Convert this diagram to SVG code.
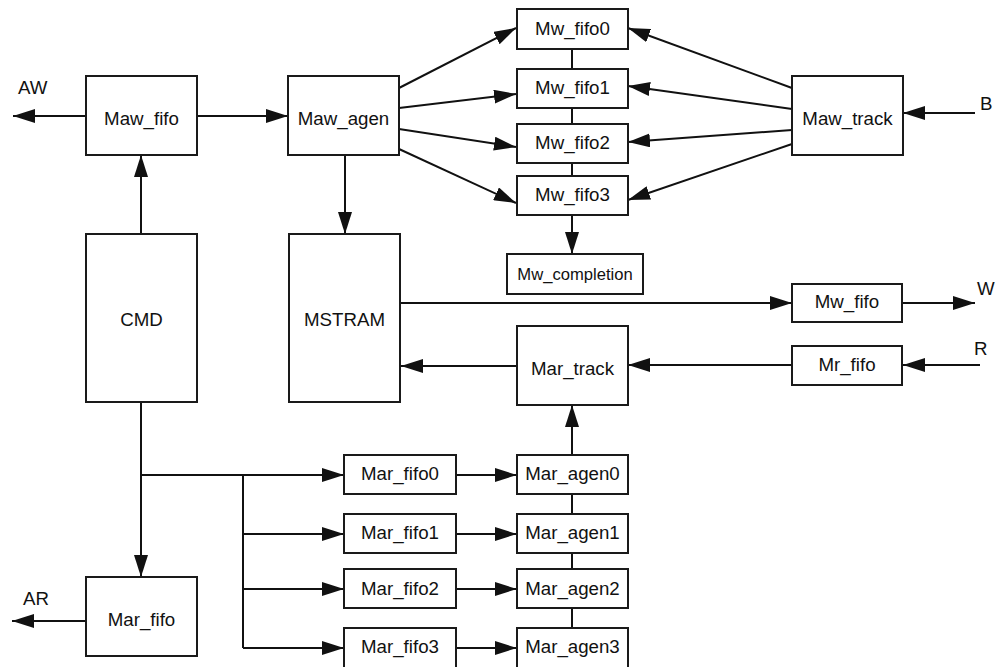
<svg xmlns="http://www.w3.org/2000/svg" width="995" height="667" viewBox="0 0 995 667">
<defs>
<marker id="ah" markerUnits="userSpaceOnUse" markerWidth="22" markerHeight="14" refX="22" refY="7" orient="auto">
<path d="M0,0 L22,7 L0,14 z" fill="#111"/>
</marker>
<style>
.box{fill:#fff;stroke:#1a1a1a;stroke-width:2}
.t{font-family:"Liberation Sans",Arial,sans-serif;font-size:18.7px;fill:#111;text-anchor:middle}
.s{font-size:16.6px}
.l{font-family:"Liberation Sans",Arial,sans-serif;font-size:18.7px;fill:#111}
.c{stroke:#111;stroke-width:2;fill:none}
.a{marker-end:url(#ah)}
</style>
</defs>
<rect width="995" height="667" fill="#fff"/>
<g id="connectors">
<line class="c a" x1="86" y1="116" x2="13" y2="116"/>
<line class="c a" x1="197" y1="116" x2="288" y2="116"/>
<line class="c a" x1="141" y1="234" x2="141" y2="155"/>
<line class="c a" x1="345" y1="155" x2="345" y2="234"/>
<line class="c a" x1="399" y1="88" x2="516" y2="28"/>
<line class="c a" x1="399" y1="108" x2="516" y2="94"/>
<line class="c a" x1="399" y1="129" x2="516" y2="147"/>
<line class="c a" x1="399" y1="149" x2="516" y2="203"/>
<line class="c a" x1="792" y1="88" x2="628" y2="28"/>
<line class="c a" x1="792" y1="109" x2="628" y2="86"/>
<line class="c a" x1="792" y1="130" x2="628" y2="142"/>
<line class="c a" x1="792" y1="144" x2="628" y2="200"/>
<line class="c a" x1="975" y1="113" x2="903" y2="113"/>
<line class="c" x1="572" y1="49" x2="572" y2="69"/>
<line class="c" x1="572" y1="108" x2="572" y2="124"/>
<line class="c" x1="572" y1="163" x2="572" y2="176"/>
<line class="c a" x1="572" y1="215" x2="572" y2="254"/>
<line class="c a" x1="400" y1="303" x2="792" y2="303"/>
<line class="c a" x1="902" y1="303" x2="975" y2="303"/>
<line class="c a" x1="980" y1="365" x2="903" y2="365"/>
<line class="c a" x1="792" y1="365" x2="628" y2="365"/>
<line class="c a" x1="517" y1="366" x2="401" y2="366"/>
<line class="c a" x1="572" y1="455" x2="572" y2="405"/>
<line class="c" x1="572" y1="494" x2="572" y2="514"/>
<line class="c" x1="572" y1="553" x2="572" y2="569"/>
<line class="c" x1="572" y1="608" x2="572" y2="628"/>
<line class="c a" x1="141" y1="402" x2="141" y2="577"/>
<line class="c a" x1="141" y1="475" x2="344" y2="475"/>
<line class="c" x1="243" y1="475" x2="243" y2="648"/>
<line class="c a" x1="243" y1="534" x2="344" y2="534"/>
<line class="c a" x1="243" y1="589" x2="344" y2="589"/>
<line class="c a" x1="243" y1="648" x2="344" y2="648"/>
<line class="c a" x1="456" y1="475" x2="517" y2="475"/>
<line class="c a" x1="456" y1="534" x2="517" y2="534"/>
<line class="c a" x1="456" y1="589" x2="517" y2="589"/>
<line class="c a" x1="456" y1="648" x2="517" y2="648"/>
<line class="c a" x1="86" y1="621" x2="12" y2="621"/>
</g>
<g id="labels">
<text class="l" x="18" y="94">AW</text>
<text class="l" x="980" y="110">B</text>
<text class="l" x="977" y="295">W</text>
<text class="l" x="974" y="355">R</text>
<text class="l" x="23" y="605">AR</text>
</g>
<g id="Maw_fifo"><rect class="box" x="86" y="76" width="111" height="79"/><text class="t" x="141.5" y="125">Maw_fifo</text></g>
<g id="Maw_agen"><rect class="box" x="288" y="76" width="111" height="79"/><text class="t" x="343.5" y="125">Maw_agen</text></g>
<g id="Maw_track"><rect class="box" x="792" y="76" width="111" height="79"/><text class="t" x="847.5" y="125">Maw_track</text></g>
<g id="Mw_fifo0"><rect class="box" x="517" y="9" width="111" height="40"/><text class="t" x="572.5" y="35">Mw_fifo0</text></g>
<g id="Mw_fifo1"><rect class="box" x="517" y="69" width="111" height="39"/><text class="t" x="572.5" y="94">Mw_fifo1</text></g>
<g id="Mw_fifo2"><rect class="box" x="517" y="124" width="111" height="39"/><text class="t" x="572.5" y="149">Mw_fifo2</text></g>
<g id="Mw_fifo3"><rect class="box" x="517" y="176" width="111" height="39"/><text class="t" x="572.5" y="201">Mw_fifo3</text></g>
<g id="Mw_completion"><rect class="box" x="507" y="254" width="136" height="40"/><text class="t s" x="575" y="280">Mw_completion</text></g>
<g id="CMD"><rect class="box" x="86" y="234" width="111" height="168"/><text class="t" x="141.5" y="326">CMD</text></g>
<g id="MSTRAM"><rect class="box" x="289" y="234" width="111" height="168"/><text class="t" x="344.5" y="326">MSTRAM</text></g>
<g id="Mw_fifo"><rect class="box" x="792" y="284" width="110" height="38"/><text class="t" x="847" y="308">Mw_fifo</text></g>
<g id="Mr_fifo"><rect class="box" x="792" y="346" width="110" height="39"/><text class="t" x="847" y="371">Mr_fifo</text></g>
<g id="Mar_track"><rect class="box" x="517" y="326" width="111" height="79"/><text class="t" x="572.5" y="375">Mar_track</text></g>
<g id="Mar_fifo"><rect class="box" x="86" y="577" width="111" height="79"/><text class="t" x="141.5" y="626">Mar_fifo</text></g>
<g id="Mar_fifo0"><rect class="box" x="344" y="455" width="112" height="39"/><text class="t" x="400" y="480">Mar_fifo0</text></g>
<g id="Mar_fifo1"><rect class="box" x="344" y="514" width="112" height="39"/><text class="t" x="400" y="539">Mar_fifo1</text></g>
<g id="Mar_fifo2"><rect class="box" x="344" y="569" width="112" height="39"/><text class="t" x="400" y="595">Mar_fifo2</text></g>
<g id="Mar_fifo3"><rect class="box" x="344" y="628" width="112" height="50"/><text class="t" x="400" y="653">Mar_fifo3</text></g>
<g id="Mar_agen0"><rect class="box" x="517" y="455" width="111" height="39"/><text class="t" x="572.5" y="480">Mar_agen0</text></g>
<g id="Mar_agen1"><rect class="box" x="517" y="514" width="111" height="39"/><text class="t" x="572.5" y="539">Mar_agen1</text></g>
<g id="Mar_agen2"><rect class="box" x="517" y="569" width="111" height="39"/><text class="t" x="572.5" y="595">Mar_agen2</text></g>
<g id="Mar_agen3"><rect class="box" x="517" y="628" width="111" height="50"/><text class="t" x="572.5" y="653">Mar_agen3</text></g>
</svg>
